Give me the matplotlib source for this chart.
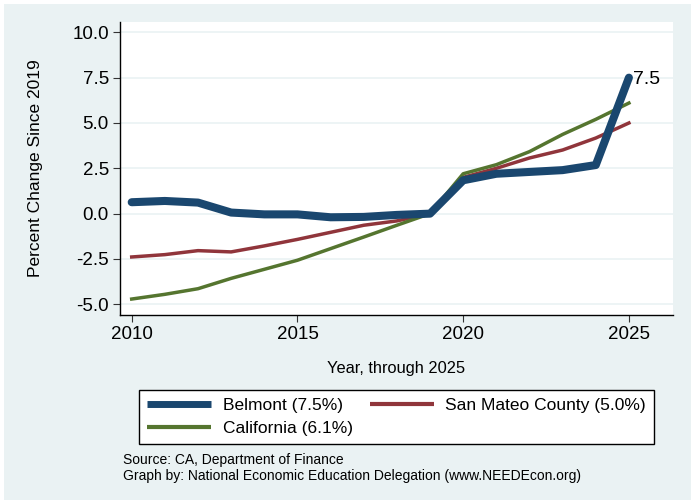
import matplotlib.pyplot as plt
from matplotlib.patches import Rectangle

# ===============================
# Data (percent change since 2019)
# ===============================
years = list(range(2010, 2026))
belmont = [0.63, 0.70, 0.61, 0.06, -0.04, -0.04, -0.20, -0.18, -0.07, 0.0,
           1.84, 2.20, 2.30, 2.40, 2.68, 7.5]
san_mateo = [-2.39, -2.26, -2.04, -2.11, -1.78, -1.42, -1.03, -0.64, -0.40, 0.0,
             2.00, 2.50, 3.07, 3.51, 4.17, 5.0]
california = [-4.71, -4.45, -4.14, -3.57, -3.07, -2.57, -1.93, -1.29, -0.64, 0.0,
              2.20, 2.70, 3.42, 4.37, 5.20, 6.1]
yticks = [10.0, 7.5, 5.0, 2.5, 0.0, -2.5, -5.0]
xticks = [2010, 2015, 2020, 2025]

plt.rcParams['font.family'] = ['Liberation Sans', 'DejaVu Sans']

bg = "#eaf2f3"
navy = "#1a476f"
maroon = "#90353b"
green = "#55752f"

W, H = 694, 500
fig = plt.figure(figsize=(6.94, 5), dpi=100, facecolor="white")
# outer light panel (small white margin round it, as in the reference)
fig.patches.append(Rectangle((4/W, 0), 687/W, 496/H, transform=fig.transFigure,
                             facecolor=bg, edgecolor="none", zorder=-10))

ax = fig.add_axes([120/W, 1 - 315/H, 553/W, 293/H])
ax.set_facecolor("white")

for y in yticks:
    ax.axhline(y, color=bg, lw=1.2, zorder=0)

l1, = ax.plot(years, belmont, color=navy, lw=5.8, solid_capstyle="round",
              label="Belmont (7.5%)", zorder=3)
l2, = ax.plot(years, san_mateo, color=maroon, lw=2.5, label="San Mateo County (5.0%)", zorder=2)
l3, = ax.plot(years, california, color=green, lw=2.5, label="California (6.1%)", zorder=2)

ax.annotate(f"{belmont[-1]:.1f}", (years[-1], belmont[-1]), xytext=(3, -1),
            textcoords="offset points", va="center", ha="left", fontsize=14)

ax.set_xlim(2009.647, 2026.33)
ax.set_ylim(-5.59, 10.57)
ax.set_xticks(xticks)
ax.set_yticks(yticks)
ax.set_yticklabels([f"{v:.1f}" for v in yticks])
ax.tick_params(axis="both", labelsize=13.5, length=5, width=0.8, color="#333333")
ax.tick_params(axis="y", pad=3)
ax.tick_params(axis="x", pad=3)

for s in ["top", "right"]:
    ax.spines[s].set_visible(False)
for s in ["left", "bottom"]:
    ax.spines[s].set_linewidth(1)

ax.set_ylabel("Percent Change Since 2019", fontsize=12.5)
ax.yaxis.set_label_coords(-0.14, 0.5)
ax.set_xlabel("Year, through 2025", fontsize=11.8, labelpad=13)

leg = fig.legend([l1, l3, l2], [l1.get_label(), l3.get_label(), l2.get_label()],
                 ncol=2, loc="center", mode="expand",
                 bbox_to_anchor=(130/W, 1 - 445/H, 533/W, 56/H),
                 fontsize=12.5, fancybox=False, edgecolor="black", framealpha=1,
                 handlelength=3.7, handletextpad=0.65, borderpad=0.48, labelspacing=0.46)
leg.get_frame().set_linewidth(1)
hl = leg.get_lines()
hl[0].set_linewidth(5)
hl[1].set_linewidth(3)
hl[2].set_linewidth(3)
for h in hl:
    h.set_solid_capstyle("butt")

fig.text(123/W, 1 - 460/H, "Source: CA, Department of Finance", fontsize=10, va="center")
fig.text(123/W, 1 - 476/H, "Graph by: National Economic Education Delegation (www.NEEDEcon.org)",
         fontsize=10, va="center")

plt.savefig("out.png", dpi=100, facecolor="white")
